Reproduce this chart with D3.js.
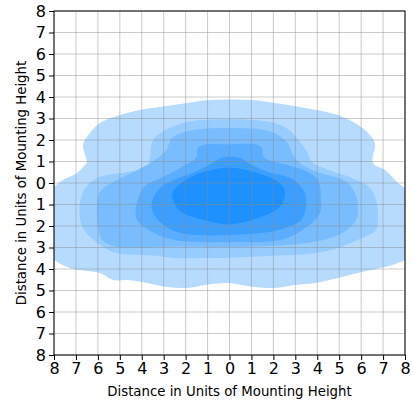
<!DOCTYPE html>
<html>
<head>
<meta charset="utf-8">
<script src="https://cdnjs.cloudflare.com/ajax/libs/d3/7.8.5/d3.min.js"></script>
<style>
  body { margin: 0; background: #fff; }
  svg text { font-family: "DejaVu Sans", sans-serif; fill: #000; }
</style>
</head>
<body>
<svg class="chart" width="414" height="401"></svg>
<script>
// tick values (labels are shown as distances, no sign)
var xTicks = [-8, -7, -6, -5, -4, -3, -2, -1, 0, 1, 2, 3, 4, 5, 6, 7, 8];
var yTicks = [-8, -7, -6, -5, -4, -3, -2, -1, 0, 1, 2, 3, 4, 5, 6, 7, 8];
var xLabel = "Distance in Units of Mounting Height";
var yLabel = "Distance in Units of Mounting Height";

// contour outlines, [x, y] in mounting heights
var level1 = [[-8.0, -0.19], [-7.59, 0.14], [-6.95, 0.47], [-6.59, 0.84], [-6.5, 0.95], [-6.68, 1.77],
  [-6.5, 2.14], [-5.9, 2.79], [-4.99, 3.16], [-4.08, 3.4], [-3.17, 3.53], [-1.94, 3.72], [-0.89, 3.86],
  [1.02, 3.86], [2.07, 3.72], [3.44, 3.49], [4.94, 3.16], [5.86, 2.7], [6.31, 2.33], [6.63, 1.86],
  [6.54, 0.93], [7.09, 0.6], [7.68, 0.0], [8.0, -0.23], [8.4, -0.6], [8.4, -3.3], [8.0, -3.58],
  [7.41, -3.81], [6.04, -4.14], [4.94, -4.42], [3.9, -4.65], [2.98, -4.74], [2.07, -4.88], [1.16, -4.84],
  [-0.07, -4.65], [-1.12, -4.74], [-1.94, -4.88], [-2.85, -4.84], [-3.76, -4.65], [-4.67, -4.51],
  [-5.31, -4.51], [-5.9, -4.19], [-6.81, -4.05], [-7.41, -3.91], [-8.0, -3.58], [-8.4, -3.3], [-8.4, -0.5]];
var level2 = [[-6.04, 0.23], [-4.67, 0.51], [-3.76, 0.74], [-3.62, 1.21], [-3.49, 2.0], [-3.03, 2.4],
  [-1.94, 2.84], [0.0, 2.97], [1.85, 2.84], [2.6, 2.55], [3.03, 2.14], [3.49, 1.53], [3.76, 0.98],
  [4.53, 0.6], [5.58, 0.23], [6.36, -0.19], [6.68, -0.79], [6.77, -1.45], [6.68, -2.19], [6.04, -2.56],
  [4.94, -3.02], [3.9, -3.26], [2.98, -3.35], [1.94, -3.38], [0.39, -3.46], [-1.12, -3.49], [-2.58, -3.49],
  [-3.31, -3.38], [-4.08, -3.35], [-5.13, -3.26], [-5.9, -2.88], [-6.68, -2.09], [-6.84, -1.3], [-6.63, -0.33]];
var level3 = [[-6.04, -1.0], [-5.9, -0.4], [-5.13, 0.14], [-4.3, 0.55], [-3.5, 1.0], [-2.9, 1.5],
  [-2.6, 2.1], [-1.7, 2.45], [0.0, 2.56], [1.85, 2.4], [2.62, 1.9], [2.9, 1.3], [3.3, 0.85], [4.2, 0.45],
  [5.26, 0.1], [5.72, -0.47], [5.86, -1.12], [5.77, -1.72], [5.26, -2.25], [4.4, -2.62], [3.0, -2.85],
  [0.0, -2.98], [-2.5, -2.95], [-4.0, -3.0], [-5.2, -2.95], [-5.8, -2.65], [-6.0, -2.0]];
var level4 = [[-1.5, 1.2], [-2.0, 0.85], [-2.75, 0.42], [-3.4, 0.1], [-3.9, -0.19], [-4.26, -1.12],
  [-4.22, -1.72], [-3.44, -2.33], [-2.5, -2.65], [0.0, -2.75], [2.5, -2.6], [3.71, -1.9], [4.12, -1.4],
  [4.17, -0.79], [4.03, 0.14], [3.5, 0.55], [2.6, 0.85], [1.55, 1.2], [1.5, 1.6], [1.3, 1.77],
  [0.0, 1.8], [-1.22, 1.77], [-1.45, 1.6]];
var level5 = [[-3.0, -0.1], [-2.4, 0.2], [-1.6, 0.5], [-1.0, 0.8], [-0.4, 1.15], [0.0, 1.22],
  [0.5, 1.15], [1.1, 0.8], [1.8, 0.5], [2.6, 0.3], [3.1, 0.0], [3.44, -0.47], [3.49, -1.12],
  [3.26, -1.72], [2.21, -2.19], [0.0, -2.42], [-2.21, -2.33], [-3.12, -1.86], [-3.53, -1.26], [-3.44, -0.6]];
var level6 = [[0.0, 0.72], [1.3, 0.45], [2.07, 0.14], [2.44, -0.19], [2.53, -0.5], [2.3, -1.1],
  [1.44, -1.58], [0.0, -1.92], [-1.4, -1.65], [-2.2, -1.35], [-2.55, -0.85], [-2.6, -0.45],
  [-2.2, 0.0], [-1.35, 0.45]];
var levels = [level1, level2, level3, level4, level5, level6];
var levelColors = ["#b6dbff", "#97ccff", "#79bdff", "#5baeff", "#3c9fff", "#1f90ff"];

var svg = d3.select("svg.chart"),
    margin = {top: 11, right: 9, bottom: 46, left: 54};
var width = +svg.attr("width") - margin.left - margin.right,
    height = +svg.attr("height") - margin.top - margin.bottom;
var g = svg.append("g").attr("transform", "translate(" + margin.left + "," + margin.top + ")");

var x = d3.scaleLinear().domain([-8, 8]).range([0, width]);
var y = d3.scaleLinear().domain([-8, 8]).range([height, 0]);

svg.append("defs").append("clipPath").attr("id", "plotclip")
  .append("rect").attr("width", width).attr("height", height);

var line = d3.line()
    .x(function(d) { return x(d[0]); })
    .y(function(d) { return y(d[1]); })
    .curve(d3.curveCatmullRomClosed.alpha(0.5));

// filled contours, outer to inner
g.append("g").attr("clip-path", "url(#plotclip)")
  .selectAll("path").data(levels).enter().append("path")
    .attr("d", line)
    .attr("fill", function(d, i) { return levelColors[i]; })
    .attr("stroke", "none");

// grid on top of the fills
var grid = g.append("g").attr("stroke", "#8a8a8a").attr("stroke-opacity", 0.45).attr("stroke-width", 1);
grid.selectAll("line.vx").data(xTicks).enter().append("line")
    .attr("x1", function(d) { return x(d); }).attr("x2", function(d) { return x(d); })
    .attr("y1", 0).attr("y2", height);
grid.selectAll("line.hy").data(yTicks).enter().append("line")
    .attr("y1", function(d) { return y(d); }).attr("y2", function(d) { return y(d); })
    .attr("x1", 0).attr("x2", width);

// axes
var xAxis = g.append("g").attr("transform", "translate(0," + height + ")")
  .call(d3.axisBottom(x).tickValues(xTicks).tickSize(5).tickPadding(3)
    .tickFormat(function(d) { return Math.abs(d); }));
var yAxis = g.append("g")
  .call(d3.axisLeft(y).tickValues(yTicks).tickSize(5).tickPadding(3)
    .tickFormat(function(d) { return Math.abs(d); }));
[xAxis, yAxis].forEach(function(a) {
  a.select(".domain").remove();
  a.selectAll(".tick line").attr("stroke", "#000").attr("stroke-width", 1);
  a.selectAll(".tick text").attr("font-size", 16).attr("font-family", "DejaVu Sans").attr("fill", "#000");
});

// frame
g.append("rect").attr("width", width).attr("height", height)
  .attr("fill", "none").attr("stroke", "#000").attr("stroke-width", 1);

svg.append("text")
  .attr("x", margin.left + width / 2).attr("y", 396)
  .attr("text-anchor", "middle").attr("font-size", 13.3)
  .text(xLabel);
svg.append("text")
  .attr("transform", "translate(26," + (margin.top + height / 2) + ") rotate(-90)")
  .attr("text-anchor", "middle").attr("font-size", 13.3)
  .text(yLabel);
</script>
</body>
</html>
